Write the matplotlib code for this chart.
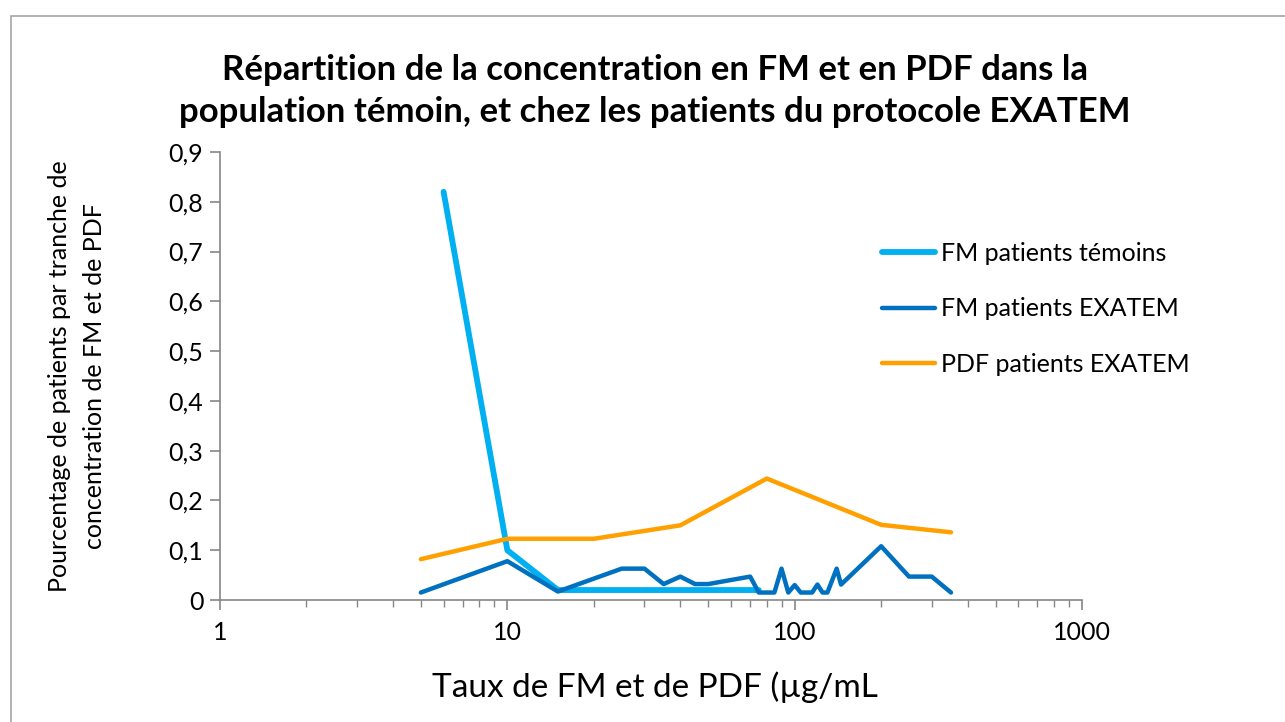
import matplotlib
matplotlib.use("Agg")
import matplotlib.pyplot as plt
from matplotlib.patches import Rectangle
from matplotlib.ticker import FixedLocator, FixedFormatter, LogLocator, NullFormatter

plt.rcParams['font.family'] = ['Lato', 'DejaVu Sans']

# FM patients témoins
fm_temoins_x = [6, 10, 15, 75]
fm_temoins_y = [0.82, 0.10, 0.02, 0.02]

# FM patients EXATEM
fm_exatem_x = [5, 10, 15, 25, 30, 35, 40, 45, 50, 70, 75, 85, 90, 95, 100,
               105, 115, 120, 125, 130, 140, 145, 200, 250, 300, 350]
fm_exatem_y = [0.015, 0.078, 0.017, 0.063, 0.063, 0.032, 0.047, 0.032, 0.032,
               0.047, 0.015, 0.015, 0.063, 0.015, 0.030, 0.015, 0.015, 0.031,
               0.015, 0.015, 0.063, 0.031, 0.108, 0.047, 0.047, 0.015]

# PDF patients EXATEM
pdf_exatem_x = [5, 10, 20, 40, 80, 200, 350]
pdf_exatem_y = [0.082, 0.123, 0.123, 0.150, 0.244, 0.151, 0.136]

y_ticks = [0, 0.1, 0.2, 0.3, 0.4, 0.5, 0.6, 0.7, 0.8, 0.9]
y_labels = ["0", "0,1", "0,2", "0,3", "0,4", "0,5", "0,6", "0,7", "0,8", "0,9"]
x_ticks = [1, 10, 100, 1000]
x_labels = ["1", "10", "100", "1000"]

fig = plt.figure(figsize=(12.85, 7.22), dpi=100)
ax = fig.add_axes([220/1285, 1 - 600/722, (1082-220)/1285, (600-152)/722])

# chart border
fig.patches.append(Rectangle((11/1285, -0.05), 1.2, 1 - 16/722 + 0.05,
                             transform=fig.transFigure, fill=False,
                             edgecolor='#a6a6a6', linewidth=1.2))

kw = dict(solid_capstyle='round', solid_joinstyle='round')
ax.plot(fm_temoins_x, fm_temoins_y, color='#00B0F0', lw=4.2, label='FM patients témoins', **kw)
ax.plot(fm_exatem_x, fm_exatem_y, color='#0070C0', lw=3.2, label='FM patients EXATEM', **kw)
ax.plot(pdf_exatem_x, pdf_exatem_y, color='#FFA000', lw=3.2, label='PDF patients EXATEM', **kw)

ax.set_xscale('log')
ax.set_xlim(1, 1000)
ax.set_ylim(0, 0.9)
ax.xaxis.set_major_locator(FixedLocator(x_ticks))
ax.xaxis.set_major_formatter(FixedFormatter(x_labels))
ax.xaxis.set_minor_locator(LogLocator(base=10, subs=range(2, 10)))
ax.xaxis.set_minor_formatter(NullFormatter())
ax.yaxis.set_major_locator(FixedLocator(y_ticks))
ax.yaxis.set_major_formatter(FixedFormatter(y_labels))

for s in ['top', 'right']:
    ax.spines[s].set_visible(False)
for s in ['left', 'bottom']:
    ax.spines[s].set_color('#868686')
    ax.spines[s].set_linewidth(1.2)
ax.tick_params(axis='both', which='major', direction='out', length=7, width=1.2,
               color='#868686', labelsize=18, pad=5)
ax.tick_params(axis='x', which='minor', direction='out', length=5, width=1,
               color='#868686')
ax.tick_params(axis='x', which='major', pad=8)

fig.text(655/1285, 1 - 91/722,
         "Répartition de la concentration en FM et en PDF dans la\n"
         "population témoin, et chez les patients du protocole EXATEM",
         ha='center', va='center', fontsize=25, fontweight='bold', linespacing=1.35)

fig.text(655/1285, 1 - 687/722, "Taux de FM et de PDF (µg/mL", ha='center', va='center',
         fontsize=24)
fig.text(77/1285, 1 - 376/722,
         "Pourcentage de patients par tranche de\nconcentration de FM et de PDF",
         ha='center', va='center', rotation=90, fontsize=18, linespacing=1.6)

fig.legend(loc='center left', bbox_to_anchor=(882/1285, 1 - 309/722), frameon=False,
           fontsize=18, handlelength=2.1, handletextpad=0.25, labelspacing=1.3,
           borderpad=0, borderaxespad=0)

fig.savefig("out.png", dpi=100)
